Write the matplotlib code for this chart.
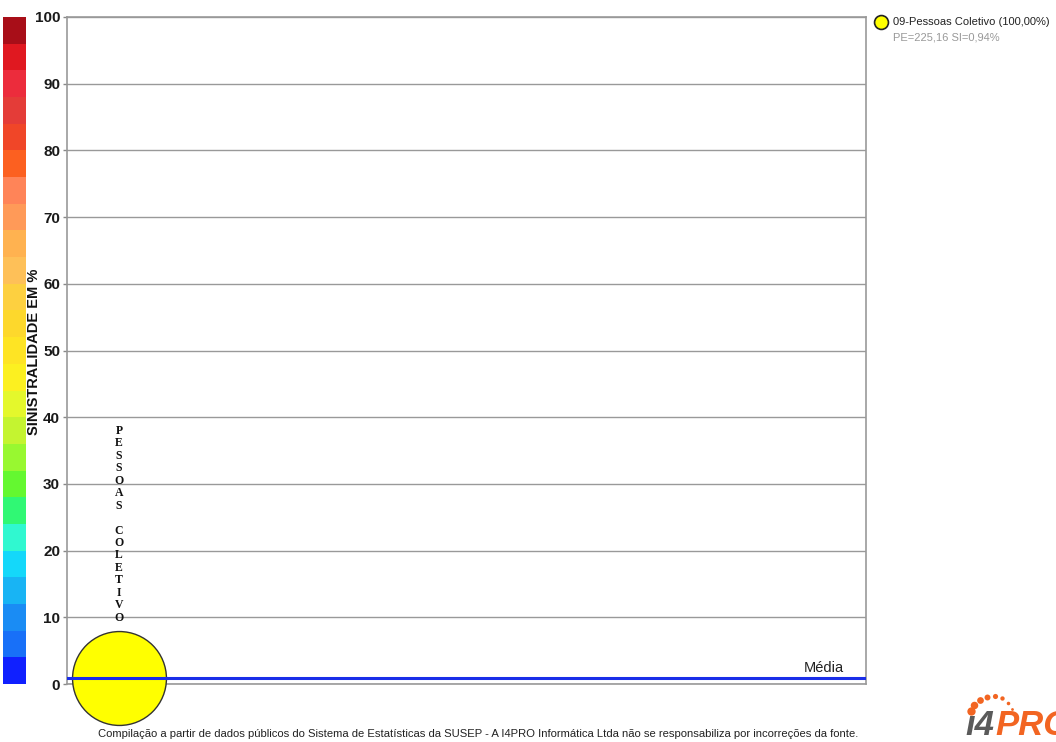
import numpy as np
import matplotlib
matplotlib.use('agg')
import matplotlib.pyplot as plt

# loss ratio per line of business
categories = ["09-Pessoas Coletivo"]
short_names = ["PESSOAS COLETIVO"]
x_pos = [1]
sinistralidade = [0.94]
premios = [225.16]
share = [100.00]
media = 0.94

# colour scale steps (4% each), bottom to top
scale_edges = list(range(0, 100, 4))
scale_colors = ['#1020ff', '#1870f8', '#1a8cf4', '#18b4f4', '#14d8fa',
                '#30f8d0', '#30f874', '#64f830', '#98f830', '#c4f430',
                '#e4f82c', '#fcf020', '#fee424', '#fdd82c', '#fdd040',
                '#fec058', '#ffb250', '#ff9a58', '#ff8458', '#fc6020',
                '#f04628', '#e43c38', '#ec2c3c', '#e01820', '#a80e18']

fig = plt.figure(figsize=(10.56, 7.42), dpi=100)

# colour scale bar on the left
cax = fig.add_axes([3 / 1056, 1 - 684 / 742, 23 / 1056, 667 / 742])
cax.bar(np.zeros(len(scale_edges)), [4] * len(scale_edges), bottom=scale_edges,
        width=1, color=scale_colors, align='edge')
cax.set_xlim(0, 1)
cax.set_ylim(0, 100)
cax.axis('off')

ax = fig.add_axes([67 / 1056, 1 - 684 / 742, 799 / 1056, 667 / 742])
ax.set_xlim(0, 15.37)
ax.set_ylim(0, 100)
ax.set_yticks(range(0, 101, 10))
ax.set_xticks([])
for lab in ax.get_yticklabels():
    lab.set_fontweight('bold')
    lab.set_fontfamily('Liberation Sans')
ax.tick_params(axis='y', labelsize=11, length=3, width=1, color='#888888', pad=2,
               labelcolor='#1a1a1a')
ax.grid(axis='y', color='#999999', lw=1)
ax.set_axisbelow(True)
for sp in ax.spines.values():
    sp.set_color('#999999')
    sp.set_linewidth(1.2)

ax.set_ylabel('SINISTRALIDADE EM %', fontsize=10.5, fontweight='bold',
              family='Liberation Sans', color='#111111')
ax.yaxis.set_label_coords(-0.0325, 0.498)

# bubbles: size from premium
sizes = [p * 20.3 for p in premios]
ax.scatter(x_pos, sinistralidade, s=sizes, color='#ffff00', edgecolor='#333333',
           lw=1, zorder=3, clip_on=False)

for xp, yv, name in zip(x_pos, sinistralidade, short_names):
    ax.text(xp, 9, '\n'.join(name), ha='center', va='bottom', fontsize=8.5,
            family='Liberation Serif', fontweight='bold', linespacing=1.055,
            color='#111111')

# average line
ax.axhline(media, color='#1a2ee8', lw=2.2, zorder=4)
ax.text(14.95, media + 0.4, 'Média', ha='right', va='bottom', fontsize=10.5,
        family='Liberation Sans', color='#222222')

# legend
fig.add_artist(plt.Line2D([881 / 1056], [1 - 22 / 742], marker='o', markersize=10,
                          markerfacecolor='#ffff00', markeredgecolor='#222222',
                          markeredgewidth=1.2, transform=fig.transFigure))
fig.text(893 / 1056, 1 - 22 / 742,
         '%s (%s%%)' % (categories[0], f'{share[0]:.2f}'.replace('.', ',')),
         fontsize=8, family='Liberation Sans', va='center', color='#222222')
fig.text(893 / 1056, 1 - 37 / 742,
         'PE=%s SI=%s%%' % (f'{premios[0]:.2f}'.replace('.', ','),
                             f'{sinistralidade[0]:.2f}'.replace('.', ',')),
         fontsize=8, family='Liberation Sans', va='center', color='#999999')

# footer
fig.text(478 / 1056, 1 - 734 / 742,
         'Compilação a partir de dados públicos do Sistema de Estatísticas da SUSEP - '
         'A I4PRO Informática Ltda não se responsabiliza por incorreções da fonte.',
         fontsize=8.15, family='Liberation Sans', ha='center', va='center',
         color='#222222')

# logo
fig.text(965 / 1056, 1 - 735 / 742, 'ı4', fontsize=25, fontweight='bold',
         style='italic', family='Liberation Sans', color='#5a5a5a', va='baseline')
fig.text(995 / 1056, 1 - 735 / 742, 'PRO', fontsize=25, fontweight='bold',
         style='italic', family='Liberation Sans', color='#f26522', va='baseline')
ang = np.linspace(np.pi * 0.92, np.pi * 0.12, 8)
dot_sizes = np.linspace(6, 2, 8)
for a, ms in zip(ang, dot_sizes):
    fig.add_artist(plt.Line2D([(992 + 22 * np.cos(a)) / 1056],
                              [1 - (716 - 20 * np.sin(a)) / 742],
                              ls='none', marker='o', markersize=ms, mew=0,
                              color='#f26522', transform=fig.transFigure))

fig.savefig('out.png', dpi=100)
